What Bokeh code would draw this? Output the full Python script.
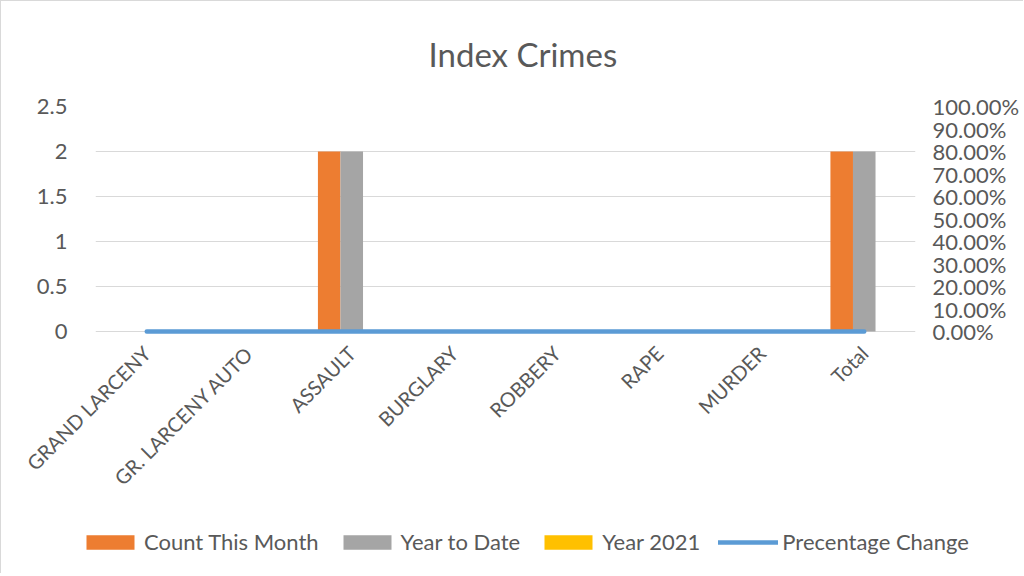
import math
from bokeh.plotting import figure
from bokeh.layouts import column
from bokeh.models import (FactorRange, Range1d, LinearAxis, FixedTicker,
                          NumeralTickFormatter, Legend, LegendItem, Title)
from bokeh.transform import dodge
from bokeh.embed import file_html
from bokeh.resources import INLINE

categories = ["GRAND LARCENY", "GR. LARCENY AUTO", "ASSAULT", "BURGLARY",
              "ROBBERY", "RAPE", "MURDER", "Total"]
count_this_month = [0, 0, 2, 0, 0, 0, 0, 2]
year_to_date = [0, 0, 2, 0, 0, 0, 0, 2]
year_2021 = [0, 0, 0, 0, 0, 0, 0, 0]
pct_change = [0, 0, 0, 0, 0, 0, 0, 0]

series_names = ["Count This Month", "Year to Date", "Year 2021", "Precentage Change"]
series_colors = ["#ED7D31", "#A5A5A5", "#FFC000", "#5B9BD5"]

left_ticks = [0, 0.5, 1, 1.5, 2, 2.5]
right_ticks = [0.0, 0.1, 0.2, 0.3, 0.4, 0.5, 0.6, 0.7, 0.8, 0.9, 1.0]

FONT = "Lato"
TXT = "#595959"
GRID = "#D9D9D9"

data = dict(cat=categories, cm=count_this_month, ytd=year_to_date,
            y21=year_2021, pc=pct_change)
w = 0.22


def add_series(fig, visible=True):
    a = fig.vbar(x=dodge("cat", -w, range=fig.x_range), top="cm", width=w,
                 source=data, fill_color=series_colors[0], line_color=None,
                 visible=visible)
    b = fig.vbar(x=dodge("cat", 0, range=fig.x_range), top="ytd", width=w,
                 source=data, fill_color=series_colors[1], line_color=None,
                 visible=visible)
    c = fig.vbar(x=dodge("cat", w, range=fig.x_range), top="y21", width=w,
                 source=data, fill_color=series_colors[2], line_color=None,
                 visible=visible)
    d = fig.line(x="cat", y="pc", source=data, y_range_name="pct",
                 line_color=series_colors[3], line_width=4.5, line_cap="round",
                 visible=visible)
    return [a, b, c, d]


p = figure(x_range=FactorRange(factors=categories),
           y_range=Range1d(-0.0333, 2.5),
           width=1022, height=527, output_backend="svg", toolbar_location=None,
           min_border_left=94, min_border_right=108, min_border_top=105,
           min_border_bottom=194)
p.extra_y_ranges = {"pct": Range1d(-0.01333, 1)}
add_series(p)

p.title = Title(text="Index Crimes", align="left", vertical_align="top",
                text_font_size="33px", text_font=FONT, text_font_style="normal",
                text_color=TXT, offset=333, standoff=62)

# axes
p.yaxis.ticker = FixedTicker(ticks=left_ticks)
p.yaxis.formatter = NumeralTickFormatter(format="0.[0]")
p.yaxis.major_label_standoff = 22

ax_r = LinearAxis(y_range_name="pct", ticker=FixedTicker(ticks=right_ticks),
                  formatter=NumeralTickFormatter(format="0.00%"))
ax_r.major_label_standoff = 17
p.add_layout(ax_r, "right")

for ax in [p.yaxis[0], ax_r, p.xaxis[0]]:
    ax.axis_line_color = None
    ax.major_tick_line_color = None
    ax.minor_tick_line_color = None
    ax.major_label_text_font = FONT
    ax.major_label_text_color = TXT
p.yaxis[0].major_label_text_font_size = "22px"
ax_r.major_label_text_font_size = "22px"
ax_r.major_tick_out = 0
p.xaxis.major_label_text_font_size = "20px"

p.xaxis.major_label_orientation = math.pi / 4
p.xaxis.major_label_standoff = 9

p.xgrid.grid_line_color = None
p.ygrid.grid_line_color = GRID
p.ygrid.grid_line_width = 1
p.outline_line_color = None
p.background_fill_color = "white"
p.border_fill_color = "white"

# legend strip (separate figure below the chart; its renderers are hidden)
lg = figure(width=1022, height=45, output_backend="svg", toolbar_location=None,
            x_range=FactorRange(factors=categories), y_range=Range1d(0, 1),
            x_axis_location=None, y_axis_location=None, min_border=0)
lg.extra_y_ranges = {"pct": Range1d(0, 1)}
lg.grid.grid_line_color = None
lg.outline_line_color = None
lg.border_fill_color = "white"
lg.background_fill_color = "white"
lrs = add_series(lg, visible=False)

for fig in (p, lg):
    try:
        fig.frame_align = False
    except Exception:
        pass

legend = Legend(items=[LegendItem(label=n, renderers=[r])
                       for n, r in zip(series_names, lrs)],
                orientation="horizontal", location=(79, 18), glyph_width=60,
                glyph_height=18, label_standoff=4, spacing=18, padding=0,
                margin=0, border_line_color=None, background_fill_alpha=0,
                inactive_fill_alpha=0,
                label_text_font=FONT, label_text_font_size="22px",
                label_text_color=TXT)
lg.add_layout(legend, "center")

layout = column(p, lg, spacing=0,
                styles={"border-left": "1px solid #D9D9D9",
                        "border-top": "1px solid #D9D9D9"})

open("out.html", "w").write(file_html(layout, INLINE))
